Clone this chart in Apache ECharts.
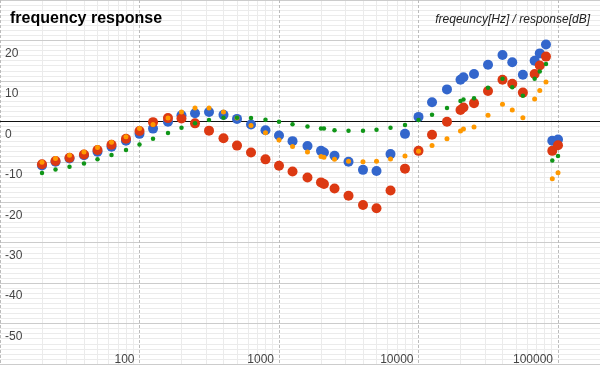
<!DOCTYPE html>
<html>
<head>
<meta charset="utf-8">
<script src="https://cdn.jsdelivr.net/npm/echarts@6/dist/echarts.min.js"></script>
<style>html,body{margin:0;padding:0;background:#fff}#c{width:600px;height:371px}</style>
</head>
<body>
<div id="c"></div>
<script>
// frequencies [Hz]
var freqs = [20, 25, 31.5, 40, 50, 63, 80, 100, 125, 160, 200, 250, 315, 400, 500, 630, 800, 1000, 1250, 1600,
  2000, 2100, 2500, 3150, 4000, 5000, 6300, 8000, 10000, 12500, 16000, 20000, 21000, 25000, 31500, 40000,
  47000, 56000, 68000, 74000, 82000, 91000, 100000];
// responses [dB]
var blueDb = [-10.9, -10.0, -9.2, -8.4, -7.5, -6.3, -4.8, -3.1, -1.8, -0.1, 1.5, 2.0, 2.3, 1.6, 0.6, -0.8, -2.2, -3.5, -4.9, -6.1,
  -7.3, -7.7, -8.5, -10.0, -12.0, -12.3, -8.1, -3.1, 1.1, 4.7, 7.9, 10.3, 10.9, 11.7, 14.0, 16.4,
  14.6, 11.5, 15.0, 16.8, 19.0, -4.8, -4.5];
var redDb = [-10.6, -9.8, -9.0, -8.2, -7.1, -5.8, -4.3, -2.4, -0.2, 0.8, 0.7, -0.5, -2.3, -4.2, -6.0, -7.7, -9.4, -11.0, -12.4, -13.9,
  -15.1, -15.5, -16.6, -18.4, -20.7, -21.5, -17.1, -11.7, -7.3, -3.3, -0.1, 2.8, 3.4, 4.5, 7.5, 10.3,
  9.3, 7.1, 11.7, 13.8, 16.0, -7.3, -5.9];
var orangeDb = [-10.1, -9.2, -8.4, -7.6, -6.5, -5.2, -3.8, -1.8, -0.8, 0.8, 2.3, 3.3, 3.3, 2.3, 0.8, -1.0, -2.8, -4.6, -6.2, -7.6,
  -8.7, -8.9, -9.4, -9.9, -10.0, -9.9, -9.3, -8.6, -7.4, -6.0, -4.3, -2.4, -1.9, -1.4, 1.5, 4.2,
  2.8, 0.9, 5.5, 7.6, 9.7, -14.2, -12.7];
var greenDb = [-12.8, -11.9, -11.2, -10.4, -9.4, -8.3, -7.1, -5.7, -4.3, -2.9, -1.6, -0.5, 0.3, 0.9, 0.9, 0.8, 0.4, -0.1, -0.7, -1.3,
  -1.8, -1.8, -2.2, -2.3, -2.3, -2.1, -1.6, -0.9, 0.3, 1.6, 3.3, 5.0, 5.4, 5.7, 8.3, 10.5,
  8.4, 6.3, 10.5, 12.3, 14.2, -9.7, -8.6];
// axis labels
var xTickLabels = [100, 1000, 10000, 100000];
var yTickLabels = [20, 10, 0, -10, -20, -30, -40, -50];

function pairs(vals) { return freqs.map(function (f, i) { return [f, vals[i]]; }); }

var minorX = [];
[10, 100, 1000, 10000, 100000].forEach(function (d) {
  for (var k = 2; k <= 9; k++) { if (k * d < 200000) minorX.push({ xAxis: k * d }); }
});

var FONT = 'Liberation Sans, Arial, sans-serif';
var chart = echarts.init(document.getElementById('c'), null, { renderer: 'canvas' });
chart.setOption({
  animation: false,
  backgroundColor: '#ffffff',
  title: [
    { text: 'frequency response', left: 10, top: 11, padding: 0,
      textStyle: { fontFamily: FONT, fontSize: 16, fontWeight: 'bold', color: '#000' } },
    { text: 'freqeuncy[Hz] / response[dB]', right: 10, top: 14, padding: 0,
      textStyle: { fontFamily: FONT, fontSize: 12, fontWeight: 'normal', fontStyle: 'italic', color: '#222' } }
  ],
  grid: { left: 0, right: 0, top: 0, bottom: 0, containLabel: false },
  xAxis: {
    type: 'log', logBase: 10, min: 10, max: 200000, z: 1,
    axisLine: { show: false }, axisTick: { show: false },
    splitLine: { show: true, lineStyle: { color: '#bcbcbc', type: [3, 2], width: 1 } },
    axisLabel: {
      inside: true, margin: -2, align: 'right', verticalAlign: 'bottom', padding: [0, 5, 0, 0],
      fontFamily: FONT, fontSize: 12, lineHeight: 12, color: '#444',
      showMinLabel: false, showMaxLabel: false,
      formatter: function (v) { return xTickLabels.indexOf(Math.round(v)) >= 0 ? String(Math.round(v)) : ''; }
    }
  },
  yAxis: {
    type: 'value', min: -60, max: 30, interval: 10, z: 1,
    axisLine: { show: false }, axisTick: { show: false },
    splitLine: { show: true, lineStyle: { color: '#cccccc', width: 1 } },
    minorTick: { show: false, splitNumber: 8 },
    minorSplitLine: { show: true, lineStyle: { color: '#ebebeb', width: 1 } },
    axisLabel: {
      inside: true, margin: 5, align: 'left', verticalAlign: 'top', padding: [7, 0, 0, 0],
      fontFamily: FONT, fontSize: 12, lineHeight: 12, color: '#444',
      formatter: function (v) { return yTickLabels.indexOf(v) >= 0 ? String(v) : ''; }
    }
  },
  series: [
    { type: 'scatter', name: 'grid', data: [], z: 0.5, silent: true,
      markLine: { silent: true, z: 0.5, symbol: 'none', label: { show: false }, animation: false,
        lineStyle: { color: '#ebebeb', type: 'solid', width: 1 }, data: minorX } },
    { type: 'scatter', name: 'zero', data: [], z: 1.5, silent: true,
      markLine: { silent: true, z: 1.5, symbol: 'none', label: { show: false }, animation: false,
        lineStyle: { color: '#111', type: 'solid', width: 1 }, data: [{ yAxis: 0 }] } },
    { type: 'scatter', name: 'A', data: pairs(blueDb), symbolSize: 10, z: 3, itemStyle: { color: '#3366cc', opacity: 1 } },
    { type: 'scatter', name: 'B', data: pairs(redDb), symbolSize: 10, z: 4, itemStyle: { color: '#dc3912', opacity: 1 } },
    { type: 'scatter', name: 'C', data: pairs(orangeDb), symbolSize: 5, z: 5, itemStyle: { color: '#ff9900', opacity: 1 } },
    { type: 'scatter', name: 'D', data: pairs(greenDb), symbolSize: 4.5, z: 6, itemStyle: { color: '#109618', opacity: 1 } }
  ]
});
</script>
</body>
</html>
